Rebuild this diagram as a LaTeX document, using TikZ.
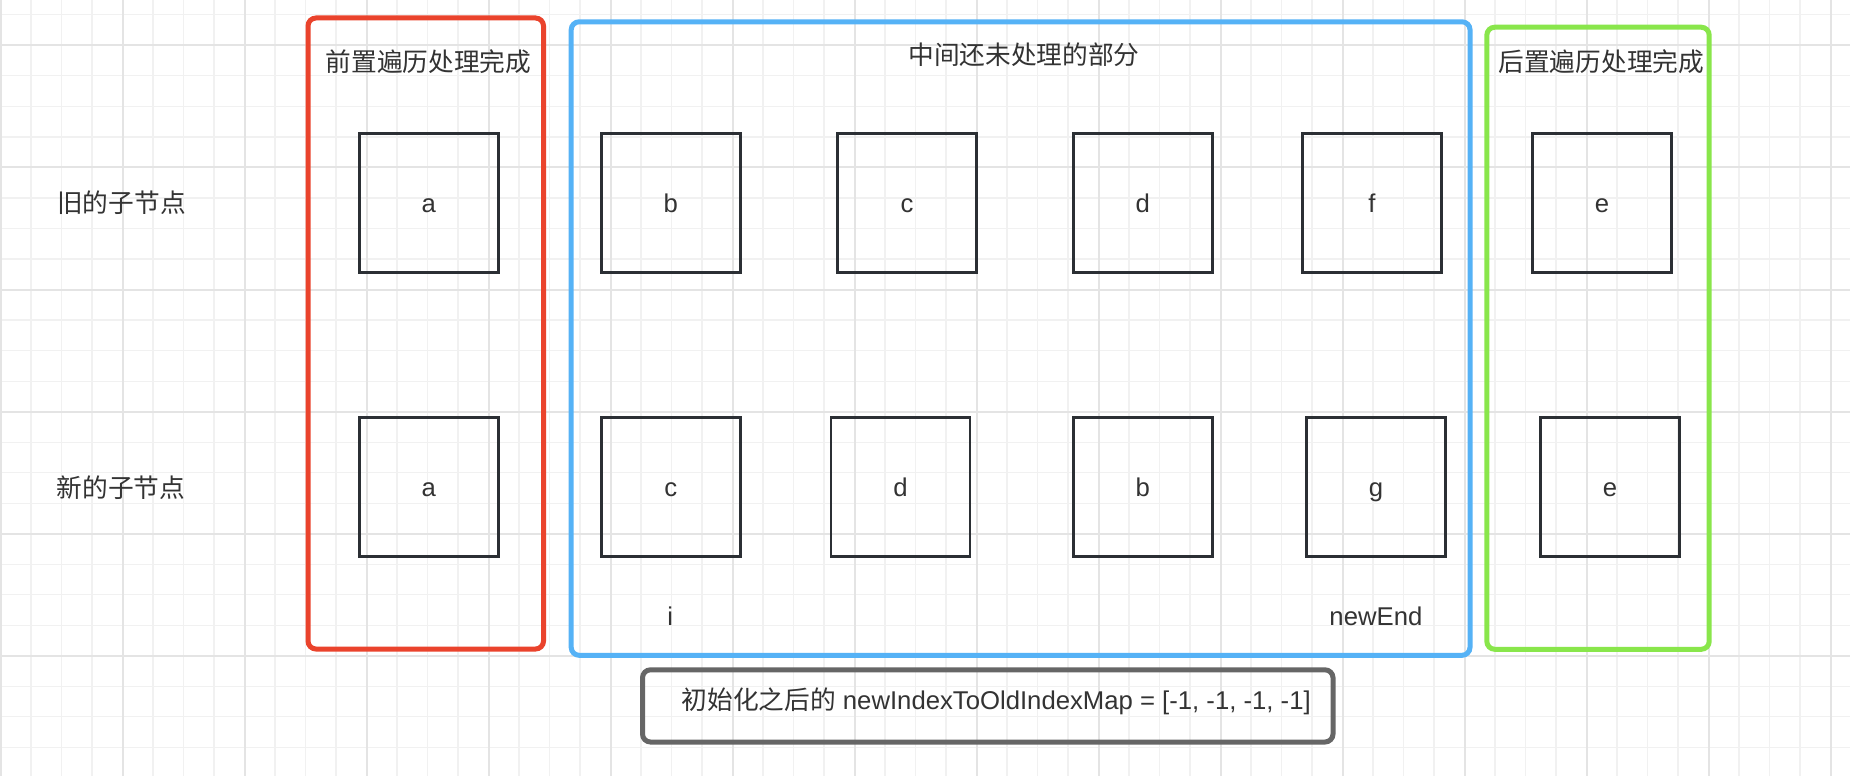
\documentclass[tikz,border=0pt]{standalone}
\usepackage{fontspec}
\setmainfont{Liberation Sans}
\newfontfamily\cjk{Noto Sans CJK SC}
\definecolor{gridminor}{HTML}{F1F1F1}
\definecolor{gridmajor}{HTML}{E4E4E4}
\definecolor{redc}{HTML}{EA432C}
\definecolor{bluec}{HTML}{55B2F6}
\definecolor{greenc}{HTML}{89E64B}
\definecolor{grayc}{HTML}{666666}
\definecolor{boxc}{HTML}{2B2F34}
\definecolor{txt}{HTML}{333333}
\newcommand\labfont{\fontsize{25.7}{30}\selectfont}
\begin{document}
\begin{tikzpicture}[x=1pt,y=-1pt,
  box/.style={draw=boxc, line width=2.6pt, minimum width=139pt, minimum height=139pt,
    inner sep=0pt, text height=18pt, text depth=0pt, font=\labfont, text=txt},
  lbl/.style={inner sep=0pt, anchor=base, text=txt, font=\labfont},
  zone/.style={line width=5pt, rounded corners=8pt, inner sep=0pt},
  gmin/.style={draw=gridminor, line width=1.2pt},
  gmaj/.style={draw=gridmajor, line width=2pt}]
\useasboundingbox (0,0) rectangle (1850,776);
\fill[white] (0,0) rectangle (1850,776);
% grid
\foreach \i in {0,...,60}{\pgfmathsetmacro\xx{0.5+30.5*\i}\draw[gmin] (\xx,0) -- (\xx,776);}
\foreach \j in {0,...,25}{\pgfmathsetmacro\yy{14.8+30.525*\j}\draw[gmin] (0,\yy) -- (1850,\yy);}
\foreach \i in {0,...,15}{\pgfmathsetmacro\xx{0.5+122*\i}\draw[gmaj] (\xx,0) -- (\xx,776);}
\foreach \j in {0,...,6}{\pgfmathsetmacro\yy{45.3+122.1*\j}\draw[gmaj] (0,\yy) -- (1850,\yy);}
% zones
\node[zone, draw=redc, minimum width=235.5pt, minimum height=631pt] (zred) at (425.75,333.5) {};
\node[zone, draw=bluec, minimum width=898.8pt, minimum height=633.5pt] (zblue) at (1020.6,338.55) {};
\node[zone, draw=greenc, minimum width=222.4pt, minimum height=622.1pt] (zgreen) at (1598,338.25) {};
\node[zone, draw=grayc, minimum width=690.5pt, minimum height=72.2pt] (zgray) at (987.75,705.9) {};
% titles
\node[lbl] (tred) at (428.5,72) {\cjk 前置遍历处理完成};
\node[lbl] (tblue) at (1024,64) {\cjk 中间还未处理的部分};
\node[lbl] (tgreen) at (1601.3,72) {\cjk 后置遍历处理完成};
% row labels
\node[lbl] (lold) at (121.5,212.5) {\cjk 旧的子节点};
\node[lbl] (lnew) at (121,497) {\cjk 新的子节点};
% old children
\node[box] (oa) at (428.8,203) {a};
\node[box] (ob) at (670.7,203) {b};
\node[box] (oc) at (907,203) {c};
\node[box] (od) at (1142.8,203) {d};
\node[box] (of) at (1371.9,203) {f};
\node[box] (oe) at (1601.9,203) {e};
% new children
\node[box] (na) at (428.8,487) {a};
\node[box] (nc) at (670.7,487) {c};
\node[box] (nd) at (900.6,487) {d};
\node[box] (nb) at (1142.8,487) {b};
\node[box] (ng) at (1375.9,487) {g};
\node[box] (ne) at (1610.1,487) {e};
% pointers
\node[lbl] (pi) at (670.3,625) {i};
\node[lbl] (pend) at (1375.9,625) {newEnd};
% map text
\node[lbl, anchor=base west] (maptext) at (681.4,709) {{\cjk 初始化之后的} newIndexToOldIndexMap = [-1, -1, -1, -1]};
\end{tikzpicture}
\end{document}
